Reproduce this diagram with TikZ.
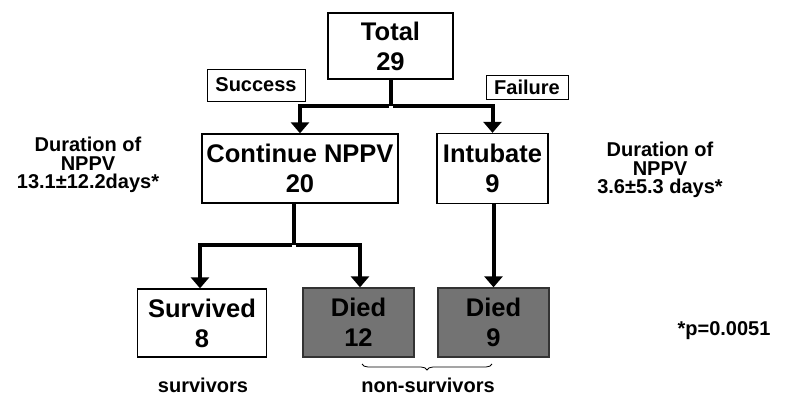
\documentclass[tikz,border=0pt]{standalone}
\usepackage{fontspec}
\setmainfont{Liberation Sans}
\usetikzlibrary{arrows.meta,decorations.pathreplacing}
\begin{document}
\begin{tikzpicture}[x=1pt,y=-1pt,
  box/.style={draw=black,line width=1.3pt,fill=white,inner sep=0pt,align=center,font=\bfseries\fontsize{25.5}{30}\selectfont},
  deadbox/.style={box,fill=black!55,draw=black!80},
  lbl/.style={draw=black,line width=0.9pt,inner sep=0pt,align=center,font=\bfseries\fontsize{20}{22}\selectfont},
  note/.style={align=center,font=\bfseries\fontsize{20}{18.5}\selectfont},
  line/.style={line width=4pt},
  arr/.style={line width=4pt,-{Triangle[width=18pt,length=11pt]}}]
\useasboundingbox (0,0) rectangle (788,398);
\node[box,minimum width=125pt,minimum height=66pt] (tot) at (390.5,46) {Total\\29};
\node[lbl,minimum width=98pt,minimum height=32pt] (succ) at (256,85) {Success};
\node[lbl,minimum width=82pt,minimum height=24pt] (fail) at (527,87) {Failure};
\node[box,minimum width=196pt,minimum height=69pt] (cont) at (300,168.5) {Continue NPPV\\20};
\node[box,minimum width=111pt,minimum height=70pt] (intu) at (492.5,168.5) {Intubate\\9};
\node[box,minimum width=129pt,minimum height=68pt] (surv) at (202,323) {Survived\\8};
\node[deadbox,minimum width=111pt,minimum height=69pt] (d12) at (358.5,322.5) {Died\\12};
\node[deadbox,minimum width=111pt,minimum height=69pt] (d9) at (493.5,322.5) {Died\\9};
\coordinate (j1) at (390.5,106);
\coordinate (j2) at (294,245);
\draw[line] (tot.south) -- (j1);
\draw[arr] ([xshift=-2pt]j1) -| (cont.north);
\draw[arr] ([xshift=2pt]j1) -| (intu.north);
\draw[line] (j2 |- cont.south) -- (j2);
\draw[arr] ([xshift=-2pt]j2) -| ([xshift=-2pt]surv.north);
\draw[arr] ([xshift=2pt]j2) -| ([xshift=1.5pt]d12.north);
\draw[arr] (intu.south -| d9.north) -- (d9.north);
\coordinate (b1) at (362,364);
\coordinate (b2) at (492,364);
\draw[decorate,decoration={brace,mirror,amplitude=6pt},line width=0.8pt] (b1) -- (b2);
\node[note] (left) at (88,165) {Duration of\\NPPV\\13.1±12.2days*};
\node[note] (right) at (660,170) {Duration of\\NPPV\\3.6±5.3 days*};
\node[note] (pval) at (724,331) {*p=0.0051};
\node[note] (sv) at (203,385) {survivors};
\node[note] (nsv) at (428,385) {non-survivors};
\end{tikzpicture}
\end{document}
